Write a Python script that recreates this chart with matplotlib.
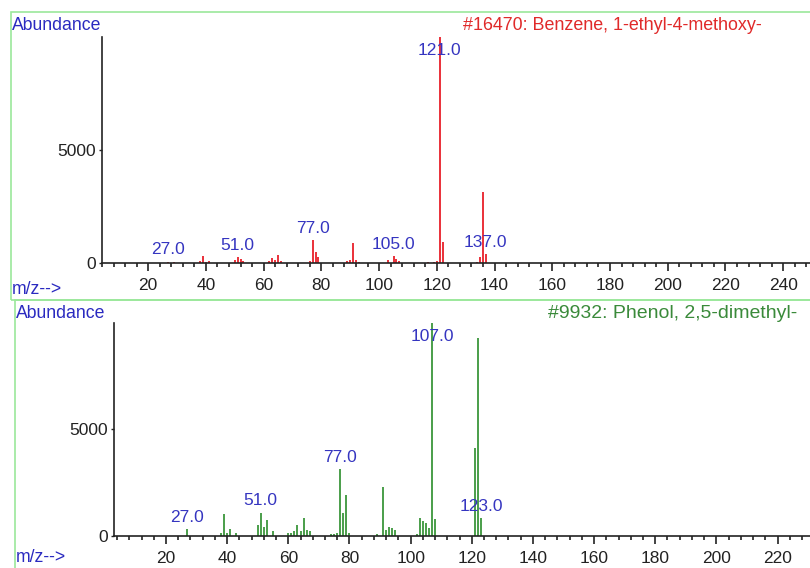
import numpy as np
import matplotlib.pyplot as plt
from matplotlib.patches import Rectangle
from matplotlib.ticker import MultipleLocator, FixedLocator

plt.rcParams['font.family'] = ['Liberation Sans', 'DejaVu Sans']

W, H = 810, 568

# library hit 1: Benzene, 1-ethyl-4-methoxy-
mz_top = [27, 29, 38, 39, 40, 41, 50, 51, 52, 53, 62, 63, 64, 65, 66,
          76, 77, 78, 79, 89, 90, 91, 92, 93, 103, 105, 106, 107,
          117, 119, 120, 121, 122, 134, 135, 136, 137]
ab_top = [60, 40, 80, 300, 60, 100, 150, 280, 180, 100, 80, 200, 120, 350, 80,
          100, 1000, 500, 250, 100, 120, 880, 130, 60, 150, 300, 180, 80,
          40, 50, 80, 9999, 930, 60, 280, 3150, 380]
labels_top = [27, 51, 77, 105, 121, 137]

# library hit 2: Phenol, 2,5-dimethyl-
mz_bot = [27, 38, 39, 40, 41, 43, 50, 51, 52, 53, 55, 60, 61, 62, 63, 64, 65,
          66, 67, 74, 75, 76, 77, 78, 79, 80, 89, 91, 92, 93, 94, 95,
          102, 103, 104, 105, 106, 107, 108, 121, 122, 123]
ab_bot = [320, 150, 1030, 150, 320, 150, 500, 1090, 430, 740, 200, 150, 150,
          200, 500, 200, 840, 250, 200, 100, 100, 150, 3150, 1090, 1930, 150,
          100, 2300, 270, 420, 380, 250, 100, 830, 700, 600, 350, 9999, 800,
          4100, 9300, 840]
labels_bot = [27, 51, 77, 107, 123]


def px(x, y):
    return x / W, 1 - y / H


def draw_spectrum(ax, mz, ab, labels, color):
    ax.vlines(mz, 0, ab, color=color, lw=1.3)
    ax.set_ylim(0, 10000)
    for s in ['top', 'right']:
        ax.spines[s].set_visible(False)
    for s in ['left', 'bottom']:
        ax.spines[s].set_color('#222222')
        ax.spines[s].set_linewidth(1.2)
    ax.xaxis.set_major_locator(MultipleLocator(20))
    ax.xaxis.set_minor_locator(MultipleLocator(4))
    ax.yaxis.set_major_locator(FixedLocator([0, 5000]))
    ax.tick_params(axis='x', which='major', length=6, width=1.2, pad=5,
                   labelsize=12.5, colors='#222222')
    ax.tick_params(axis='x', which='minor', length=3, width=1.2, colors='#222222')
    ax.tick_params(axis='y', length=2.5, width=1, pad=2, labelsize=12.5,
                   colors='#222222')
    ax.patch.set_alpha(0)

    # peak labels sit just above their line; the base peak label is kept inside
    for m in labels:
        h = ab[mz.index(m)]
        if h > 9000:
            ax.annotate(f'{m:.1f}', xy=(m, 10000), xytext=(0, -4),
                        textcoords='offset points', ha='center', va='top',
                        fontsize=12.5, color='#3535c0', annotation_clip=False)
        else:
            ax.annotate(f'{m:.1f}', xy=(m, h), xytext=(0, 3),
                        textcoords='offset points', ha='center', va='bottom',
                        fontsize=12.5, color='#3535c0', annotation_clip=False)


fig = plt.figure(figsize=(W / 100, H / 100), dpi=100)

# green frames around each panel
x0, y0 = px(11, 300)
fig.add_artist(Rectangle((x0, y0), 1.1, px(0, 12)[1] - y0, transform=fig.transFigure,
                         fill=False, ec='#9be89b', lw=1.2))
x0, y0 = px(15, 600)
fig.add_artist(Rectangle((x0, y0), 1.1, px(0, 300)[1] - y0, transform=fig.transFigure,
                         fill=False, ec='#9be89b', lw=1.2))

ax1 = fig.add_axes([102 / W, 1 - 263 / H, (W - 102) / W, 226 / H])
draw_spectrum(ax1, mz_top, ab_top, labels_top, '#e8202a')
ax1.set_xlim(4, 249.3)

ax2 = fig.add_axes([114 / W, 1 - 535.7 / H, (W - 114) / W, 212.7 / H])
draw_spectrum(ax2, mz_bot, ab_bot, labels_bot, '#3c963c')
ax2.set_xlim(3, 230.6)

blue = '#2a2ac0'
fig.text(*px(12, 25), 'Abundance', color=blue, fontsize=12.7, va='center')
fig.text(*px(12, 289), 'm/z-->', color=blue, fontsize=12.7, va='center')
fig.text(*px(16, 313), 'Abundance', color=blue, fontsize=12.7, va='center')
fig.text(*px(16, 558), 'm/z-->', color=blue, fontsize=12.7, va='center')
fig.text(*px(762, 26), '#16470: Benzene, 1-ethyl-4-methoxy-', color='#e02a2a',
         fontsize=12.9, va='center', ha='right')
fig.text(*px(797, 314), '#9932: Phenol, 2,5-dimethyl-', color='#3a8a3a',
         fontsize=14, va='center', ha='right')

fig.savefig('out.png', dpi=100)
